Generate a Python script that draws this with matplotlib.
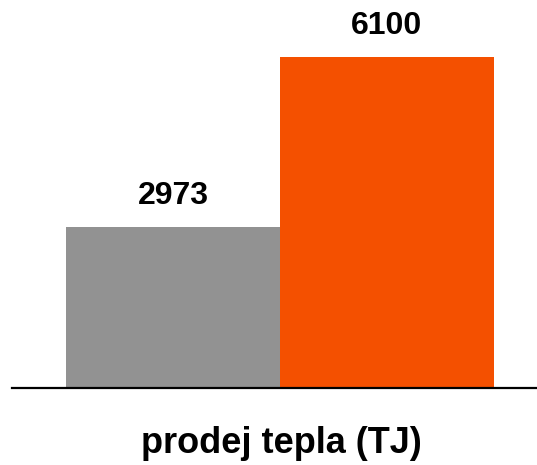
import matplotlib
matplotlib.use('Agg')
import matplotlib.pyplot as plt

categories = ['a', 'b']
values = [2973, 6100]
colors = ['#929292', '#F45000']
xlabel = 'prodej tepla (TJ)'

plt.rcParams['font.family'] = ['Liberation Sans', 'DejaVu Sans']

fig = plt.figure(figsize=(5.37, 4.65), dpi=100)
ax = fig.add_axes([12/537, 77/465, 525/537, 388/465])

x = range(len(values))
ax.bar(x, values, width=1.0, color=colors, linewidth=0)
for xi, v in zip(x, values):
    ax.annotate(str(v), (xi, v), xytext=(0, 16.5), textcoords='offset points',
                ha='center', va='baseline', fontsize=23, fontweight='bold')

ax.set_xlim(-0.752, 1.701)
ax.set_ylim(0, 7150)
for s in ['top', 'left', 'right']:
    ax.spines[s].set_visible(False)
ax.spines['bottom'].set_linewidth(1.6)
ax.spines['bottom'].set_color('black')
ax.set_xticks([])
ax.set_yticks([])

fig.text(281/537, 12/465, xlabel, ha='center', va='baseline',
         fontsize=26, fontweight='bold')

fig.savefig('out.png', dpi=100)
